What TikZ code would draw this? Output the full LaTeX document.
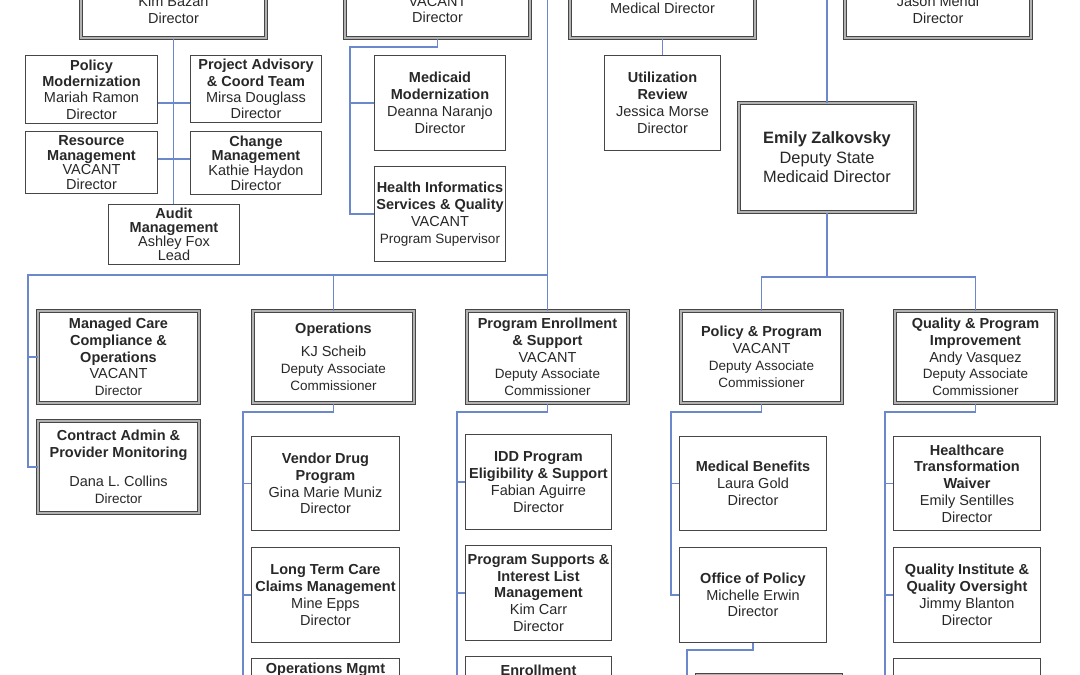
\documentclass[tikz,border=0pt]{standalone}
\usepackage{fontspec}
\setmainfont{Liberation Sans}
\definecolor{connblue}{RGB}{108,136,204}
\definecolor{boxline}{RGB}{70,70,70}
\definecolor{txt}{RGB}{40,40,40}
\newcommand\fnt{\fontsize{14.5}{16.8}\selectfont}
\newcommand\smf{\fontsize{13.5}{16.5}\selectfont}
% single-line box: name, x1, y1, x2, y2, text
\newcommand\boxS[6]{\node[sbx, minimum width={#4-#2-1.3}, minimum height={#5-#3-1.3}] (#1) at ({(#2+#4)/2},{(#3+#5)/2}) {#6};}
% double-line box
\newcommand\boxD[6]{\node[dbx, minimum width={#4-#2-4}, minimum height={#5-#3-4}] (#1) at ({(#2+#4)/2},{(#3+#5)/2}) {#6};}
\tikzset{
  every node/.style={text=txt},
  sbx/.style={draw=boxline, line width=1.3pt, fill=white, inner sep=0pt, align=center, font=\fnt},
  dbx/.style={draw=boxline, line width=1pt, double=black!30, double distance=2pt, fill=white, inner sep=0pt, align=center, font=\fnt},
  conn/.style={draw=connblue, line width=1.6pt},
  lbl/.style={inner sep=0pt, font=\fnt\bfseries},
}
\begin{document}
\begin{tikzpicture}[x=1pt,y=-1pt]
\useasboundingbox (0,0) rectangle (1080,675);
\clip (0,0) rectangle (1080,675);
\fill[white] (0,0) rectangle (1080,675);

% ---------- top row (cut off) ----------
\boxD{kim}{79}{-21}{268}{40}{Kim Bazan\\Director}
\boxD{vac1}{343}{-21}{532}{40}{VACANT\\Director}
\boxD{med}{568}{-24}{757}{40}{Medical Director}
\boxD{jason}{843}{-21}{1033}{40}{Jason Mendl\\Director}

% ---------- under Kim Bazan ----------
\node[sbx, font=\fontsize{14.5}{16.3}\selectfont, minimum width=131.7, minimum height=67.7] (polmod) at (91.5,89.5) {\textbf{Policy}\\\textbf{Modernization}\\Mariah Ramon\\Director};
\node[sbx, font=\fontsize{14.5}{16.3}\selectfont, minimum width=130.7, minimum height=66.7] (projadv) at (256,89) {\textbf{Project Advisory}\\\textbf{\& Coord Team}\\Mirsa Douglass\\Director};
\node[sbx, font=\fontsize{14.5}{14.4}\selectfont, minimum width=131.7, minimum height=61.7] (resmgmt) at (91.5,162.5) {\textbf{Resource}\\\textbf{Management}\\VACANT\\Director};
\node[sbx, font=\fontsize{14.5}{14.6}\selectfont, minimum width=130.7, minimum height=62.7] (chgmgmt) at (256,163) {\textbf{Change}\\\textbf{Management}\\Kathie Haydon\\Director};
\node[sbx, font=\fontsize{14.5}{14}\selectfont, minimum width=130.7, minimum height=59.7] (audit) at (174,234.5) {\textbf{Audit}\\\textbf{Management}\\Ashley Fox\\Lead};

% ---------- under VACANT ----------
\boxS{medmod}{374}{55}{506}{151}{\textbf{Medicaid}\\\textbf{Modernization}\\Deanna Naranjo\\Director}
\boxS{hisq}{374}{166}{506}{262}{\textbf{Health Informatics}\\\textbf{Services \& Quality}\\VACANT\\{\smf Program Supervisor}}

% ---------- under Medical Director ----------
\boxS{utilrev}{604}{55}{721}{151}{\textbf{Utilization}\\\textbf{Review}\\Jessica Morse\\Director}

% ---------- Emily ----------
\node[dbx, font=\fontsize{16.4}{19.5}\selectfont, minimum width=176, minimum height=109] (emily) at (827,157.5) {\textbf{Emily Zalkovsky}\\Deputy State\\Medicaid Director};

% ---------- row 2 ----------
\boxD{mcc}{36}{309}{201}{405}{\textbf{Managed Care}\\\textbf{Compliance \&}\\\textbf{Operations}\\VACANT\\{\smf Director}}
\boxD{ops}{251}{309}{416}{405}{\textbf{Operations}\\[6pt]KJ Scheib\\{\smf Deputy Associate}\\{\smf Commissioner}}
\boxD{pes}{465}{309}{630}{405}{\textbf{Program Enrollment}\\\textbf{\& Support}\\VACANT\\{\smf Deputy Associate}\\{\smf Commissioner}}
\boxD{pp}{679}{309}{844}{405}{\textbf{Policy \& Program}\\VACANT\\{\smf Deputy Associate}\\{\smf Commissioner}}
\boxD{qpi}{893}{309}{1058}{405}{\textbf{Quality \& Program}\\\textbf{Improvement}\\Andy Vasquez\\{\smf Deputy Associate}\\{\smf Commissioner}}
\boxD{cam}{36}{419}{201}{515}{\textbf{Contract Admin \&}\\\textbf{Provider Monitoring}\\[12pt]Dana L. Collins\\{\smf Director}}

% ---------- row 3: Operations ----------
\boxS{vdp}{251}{436}{400}{531}{\textbf{Vendor Drug}\\\textbf{Program}\\Gina Marie Muniz\\Director}
\boxS{ltc}{251}{547}{400}{643}{\textbf{Long Term Care}\\\textbf{Claims Management}\\Mine Epps\\Director}
\boxS{opsm}{251}{658}{400}{754}{}
\node[lbl] (opsmt) at (325.5,670) {Operations Mgmt};

% ---------- row 3: Program Enrollment ----------
\boxS{idd}{465}{434}{612}{530}{\textbf{IDD Program}\\\textbf{Eligibility \& Support}\\Fabian Aguirre\\Director}
\boxS{psil}{465}{545}{612}{641}{\textbf{Program Supports \&}\\\textbf{Interest List}\\\textbf{Management}\\Kim Carr\\Director}
\boxS{enr}{465}{656}{612}{752}{}
\node[lbl] (enrt) at (538.5,670) {Enrollment};

% ---------- row 3: Policy ----------
\boxS{medben}{679}{436}{827}{531}{\textbf{Medical Benefits}\\Laura Gold\\Director}
\boxS{ofpol}{679}{547}{827}{643}{\textbf{Office of Policy}\\Michelle Erwin\\Director}
\boxD{polx}{695}{673}{843}{769}{}

% ---------- row 3: Quality ----------
\boxS{htw}{893}{436}{1041}{531}{\textbf{Healthcare}\\\textbf{Transformation}\\\textbf{Waiver}\\Emily Sentilles\\Director}
\boxS{qiqo}{893}{547}{1041}{643}{\textbf{Quality Institute \&}\\\textbf{Quality Oversight}\\Jimmy Blanton\\Director}
\boxS{qx}{893}{658}{1041}{754}{}

% ================= connectors =================
% Kim Bazan
\draw[conn] (kim.south) -- (kim.south |- audit.north);
\draw[conn] (polmod.east |- 0,103) -- (projadv.west |- 0,103);
\draw[conn] (resmgmt.east |- 0,159) -- (chgmgmt.west |- 0,159);
% VACANT
\coordinate (vt) at (350,47);
\draw[conn] (vac1.south) |- (vt) -- (vt |- hisq.west) -- (hisq.west);
\draw[conn] (vt |- medmod.west) -- (medmod.west);
% Medical Director
\draw[conn] (med.south) -- (utilrev.north);
% big trunk to row 2
\coordinate (topA) at (547.5,-5);
\coordinate (hA) at (547.5,275);
\coordinate (lA) at (28,275);
\draw[conn] (topA) -- (pes.north);
\draw[conn] (hA) -| (ops.north);
\draw[conn] (hA) -- (lA) |- (cam.west);
\draw[conn] (lA |- mcc.west) -- (mcc.west);
% Emily
\coordinate (topE) at (827,-5);
\coordinate (eh) at (827,277);
\draw[conn] (topE) -- (emily.north);
\draw[conn] (emily.south) -- (eh);
\draw[conn] (pp.north) |- (eh) -| (qpi.north);
% Operations column
\coordinate (oc) at (243,412);
\draw[conn] (ops.south) |- (oc) |- (opsm.west);
\draw[conn] (oc |- vdp.west) -- (vdp.west);
\draw[conn] (oc |- ltc.west) -- (ltc.west);
% Program Enrollment column
\coordinate (pc) at (457,412);
\draw[conn] (pes.south) |- (pc) |- (enr.west);
\draw[conn] (pc |- idd.west) -- (idd.west);
\draw[conn] (pc |- psil.west) -- (psil.west);
% Policy column
\coordinate (plc) at (671,412);
\draw[conn] (pp.south) |- (plc) |- (ofpol.west);
\draw[conn] (plc |- medben.west) -- (medben.west);
\coordinate (oc2) at (687,650);
\draw[conn] (ofpol.south) |- (oc2) |- (polx.west);
% Quality column
\coordinate (qc) at (885,412);
\draw[conn] (qpi.south) |- (qc) |- (qx.west);
\draw[conn] (qc |- htw.west) -- (htw.west);
\draw[conn] (qc |- qiqo.west) -- (qiqo.west);
\end{tikzpicture}
\end{document}
